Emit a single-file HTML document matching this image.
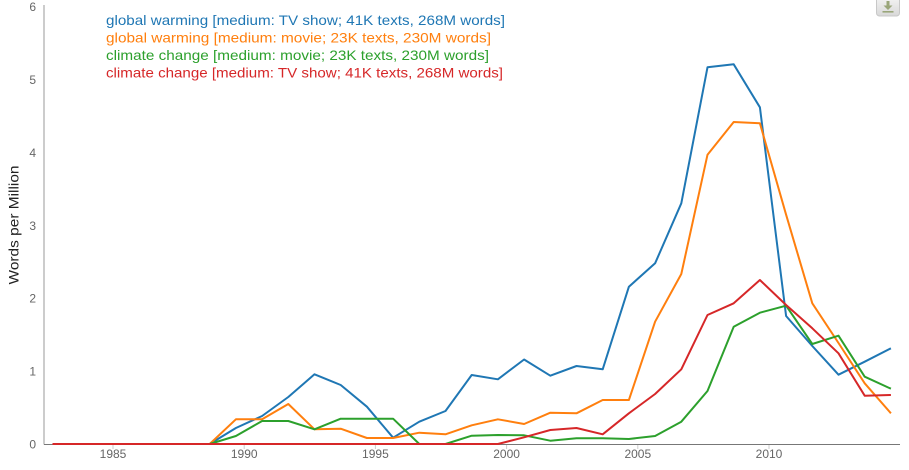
<!DOCTYPE html>
<html>
<head>
<meta charset="utf-8">
<style>
html,body{margin:0;padding:0;background:#fff;}
body{width:909px;height:470px;overflow:hidden;position:relative;}
svg{position:absolute;left:0;top:0;}
</style>
</head>
<body>
<svg width="909" height="470" viewBox="0 0 909 470" xmlns="http://www.w3.org/2000/svg" font-family="Liberation Sans, sans-serif">
  <!-- axes -->
  <line x1="44" y1="5" x2="44" y2="444.5" stroke="#999" stroke-width="1"/>
  <line x1="44" y1="444.5" x2="900" y2="444.5" stroke="#777" stroke-width="1"/>
  <!-- x ticks -->
  <g stroke="#ccc" stroke-width="1">
    <line x1="113" y1="445" x2="113" y2="449"/>
    <line x1="244.2" y1="445" x2="244.2" y2="449"/>
    <line x1="375.4" y1="445" x2="375.4" y2="449"/>
    <line x1="506.6" y1="445" x2="506.6" y2="449"/>
    <line x1="637.8" y1="445" x2="637.8" y2="449"/>
    <line x1="769" y1="445" x2="769" y2="449"/>
  </g>
  <g font-size="12" fill="#666" text-anchor="middle">
    <text x="113" y="458">1985</text>
    <text x="244.2" y="458">1990</text>
    <text x="375.4" y="458">1995</text>
    <text x="506.6" y="458">2000</text>
    <text x="637.8" y="458">2005</text>
    <text x="769" y="458">2010</text>
  </g>
  <g font-size="12" fill="#666" text-anchor="end">
    <text x="36" y="448.5">0</text>
    <text x="36" y="375.6">1</text>
    <text x="36" y="302.7">2</text>
    <text x="36" y="229.8">3</text>
    <text x="36" y="156.9">4</text>
    <text x="36" y="84">5</text>
    <text x="36" y="11.1">6</text>
  </g>
  <text transform="translate(18.5,225) rotate(-90)" font-size="14" fill="#222" text-anchor="middle" textLength="119" lengthAdjust="spacingAndGlyphs">Words per Million</text>

  <!-- series -->
  <g fill="none" stroke-width="2" stroke-linejoin="round">
    <polyline stroke="#1f77b4" points="52.5,444 78.7,444 104.9,444 131.1,444 157.3,444 183.5,444 209.7,444 235.9,428 262.1,416 288.3,397 314.5,374.3 340.7,385 366.9,406.7 393.1,437.7 419.3,421.7 445.5,411 471.7,375 497.9,379.3 524.1,359.5 550.3,375.7 576.5,366 602.7,369.3 628.9,286.7 655.1,263.3 681.3,203.3 707.5,67.3 733.7,64.3 759.9,107.3 786.1,316 812.3,346 838.5,374.7 864.7,361.7 890.9,348.3"/>
    <polyline stroke="#ff7f0e" points="52.5,444 78.7,444 104.9,444 131.1,444 157.3,444 183.5,444 209.7,444 235.9,419.3 262.1,419.3 288.3,404 314.5,429.3 340.7,428.7 366.9,438 393.1,438 419.3,432.7 445.5,434.3 471.7,425.3 497.9,419.3 524.1,424 550.3,412.7 576.5,413.3 602.7,400 628.9,400 655.1,321.7 681.3,274 707.5,154.7 733.7,122 759.9,123.3 786.1,214.7 812.3,303.3 838.5,343 864.7,383.3 890.9,413.3"/>
    <polyline stroke="#2ca02c" points="52.5,444 78.7,444 104.9,444 131.1,444 157.3,444 183.5,444 209.7,444 235.9,436 262.1,421 288.3,421 314.5,429.3 340.7,418.7 366.9,418.7 393.1,418.7 419.3,444 445.5,444 471.7,435.7 497.9,435 524.1,435.3 550.3,440.7 576.5,438.3 602.7,438.3 628.9,439 655.1,436 681.3,421.7 707.5,391 733.7,326.7 759.9,312.7 786.1,305.7 812.3,344 838.5,335.7 864.7,376.7 890.9,388.7"/>
    <polyline stroke="#d62728" points="52.5,444 78.7,444 104.9,444 131.1,444 157.3,444 183.5,444 209.7,444 235.9,444 262.1,444 288.3,444 314.5,444 340.7,444 366.9,444 393.1,444 419.3,444 445.5,444 471.7,444 497.9,444 524.1,437.3 550.3,430 576.5,428 602.7,434.3 628.9,413.3 655.1,394 681.3,369.3 707.5,315 733.7,303.3 759.9,280 786.1,305 812.3,328.3 838.5,353.3 864.7,395.7 890.9,395"/>
  </g>

  <!-- legend -->
  <g font-size="14">
    <text x="106" y="24.8" fill="#1f77b4" textLength="399" lengthAdjust="spacingAndGlyphs">global warming [medium: TV show; 41K texts, 268M words]</text>
    <text x="106" y="42.3" fill="#ff7f0e" textLength="385" lengthAdjust="spacingAndGlyphs">global warming [medium: movie; 23K texts, 230M words]</text>
    <text x="106" y="59.8" fill="#2ca02c" textLength="383" lengthAdjust="spacingAndGlyphs">climate change [medium: movie; 23K texts, 230M words]</text>
    <text x="106" y="77.3" fill="#d62728" textLength="397" lengthAdjust="spacingAndGlyphs">climate change [medium: TV show; 41K texts, 268M words]</text>
  </g>

  <!-- download button -->
  <defs>
    <linearGradient id="btn" x1="0" y1="0" x2="0" y2="1">
      <stop offset="0" stop-color="#f4f4f4"/>
      <stop offset="1" stop-color="#d8d8d8"/>
    </linearGradient>
  </defs>
  <rect x="876.5" y="-3" width="23" height="19" rx="3" ry="3" fill="url(#btn)" stroke="#c8c8c8" stroke-width="1"/>
  <rect x="886.5" y="1" width="3" height="5" fill="#9aa67a"/>
  <polygon points="883.5,5.5 892.5,5.5 888,10" fill="#9aa67a"/>
  <rect x="882.5" y="11" width="11" height="1.6" fill="#9aa67a"/>
</svg>
</body>
</html>
